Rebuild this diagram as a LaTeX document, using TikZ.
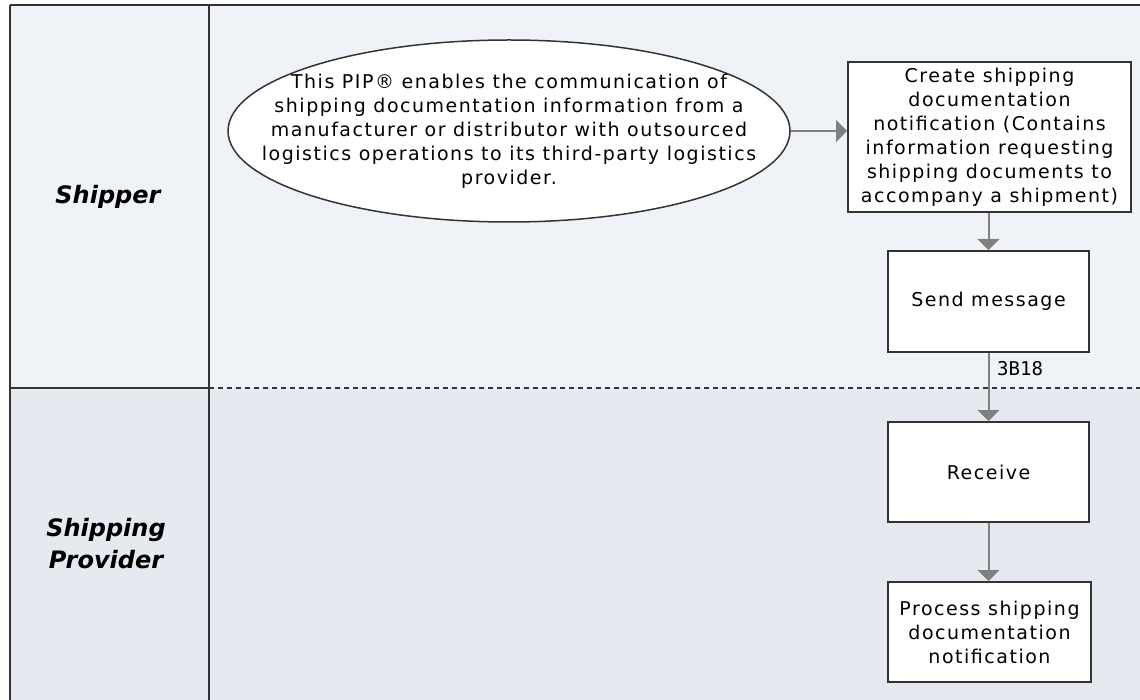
\documentclass[tikz,border=0pt]{standalone}
\usepackage{fontspec}
\setmainfont{DejaVu Sans}
\newfontfamily\boxfont[LetterSpace=8]{DejaVu Sans}
\newfontfamily\lanefont{DejaVu Sans}
\newfontfamily\monofont{DejaVu Sans Mono}
\usetikzlibrary{shapes.geometric,arrows.meta}
\definecolor{laneA}{HTML}{EFF3F7}
\definecolor{laneB}{HTML}{E6E9F0}
\definecolor{rule}{HTML}{333333}
\definecolor{flow}{HTML}{808080}
\tikzset{
  frameline/.style={draw=rule, line width=2pt},
  boxtext/.style={align=center, font=\boxfont\fontsize{19}{24}\selectfont},
  stepbox/.style={draw=rule, line width=2pt, fill=white, rectangle, inner sep=0pt, boxtext},
  noteell/.style={draw=rule, line width=1.5pt, fill=white, ellipse, inner sep=0pt},
  lanelabel/.style={align=center, font=\lanefont\bfseries\itshape\fontsize{24}{32}\selectfont},
  flowarrow/.style={draw=flow, line width=2pt, -{Triangle[width=22pt,length=11pt]}},
  msglabel/.style={font=\monofont\fontsize{19}{22}\selectfont, anchor=west, inner sep=0pt}
}
\begin{document}
\begin{tikzpicture}[x=1pt,y=-1pt]
\useasboundingbox (0,0) rectangle (1140,700);
% lanes
\fill[white] (0,0) rectangle (1140,700);
\fill[laneA] (10,5) rectangle (1140,388);
\fill[laneB] (10,388) rectangle (1140,700);
\draw[frameline] (10,5) -- (1140,5);
\draw[frameline] (10,5) -- (10,700);
\draw[frameline] (209,5) -- (209,700);
\draw[frameline] (10,388) -- (209,388);
\draw[frameline, dash pattern=on 5pt off 4pt] (209,388) -- (1140,388);
% lane labels
\node[lanelabel] (shipper) at (108,197) {Shipper};
\node[lanelabel] (provider) at (106,544) {Shipping\\Provider};
% nodes
\node[noteell, minimum width=562pt, minimum height=182pt] (pip) at (509,131) {};
\node[boxtext, inner sep=0pt] (piptext) at (pip.center)
  {This PIP® enables the communication of\\
   shipping documentation information from a\\
   manufacturer or distributor with outsourced\\
   logistics operations to its third-party logistics\\
   provider.};
\node[stepbox, minimum width=283pt, minimum height=150pt] (create) at (989.5,137)
  {Create shipping\\documentation\\notification (Contains\\information requesting\\shipping documents to\\accompany a shipment)};
\node[stepbox, minimum width=201pt, minimum height=101pt] (send) at (988.5,301.5) {Send message};
\node[stepbox, minimum width=201pt, minimum height=100pt] (recv) at (988.5,472) {Receive};
\node[stepbox, minimum width=203pt, minimum height=100pt] (proc) at (989.5,632)
  {Process shipping\\documentation\\notification};
% connectors
\draw[flowarrow] (pip.east) -- (pip.east -| create.west);
\draw[flowarrow] (create.south -| send.north) -- (send.north);
\draw[flowarrow] (send.south) -- (recv.north);
\draw[flowarrow] (recv.south) -- (proc.north -| recv.south);
\node[msglabel] (msg) at (997,369) {3B18};
\end{tikzpicture}
\end{document}
